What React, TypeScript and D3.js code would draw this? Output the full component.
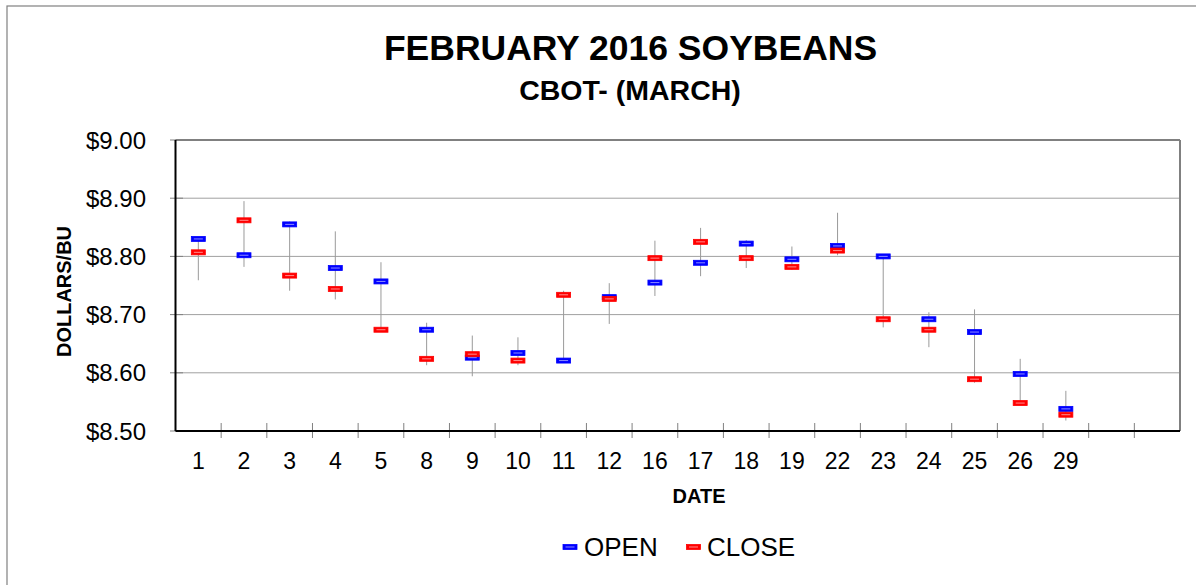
import React from "react";
import * as d3 from "d3";

const categories = ["1","2","3","4","5","8","9","10","11","12","16","17","18","19","22","23","24","25","26","29","",""];
const openValues = [8.830,8.802,8.855,8.780,8.757,8.674,8.626,8.634,8.621,8.730,8.755,8.789,8.822,8.795,8.818,8.800,8.692,8.670,8.598,8.538];
const closeValues = [8.807,8.862,8.767,8.744,8.674,8.624,8.632,8.621,8.734,8.727,8.797,8.825,8.797,8.782,8.810,8.692,8.674,8.589,8.548,8.528];
const highValues = [8.830,8.895,8.860,8.843,8.790,8.686,8.664,8.661,8.741,8.754,8.827,8.849,8.828,8.817,8.875,8.800,8.704,8.709,8.624,8.569];
const lowValues = [8.759,8.782,8.741,8.726,8.674,8.613,8.594,8.613,8.621,8.684,8.732,8.766,8.780,8.777,8.802,8.678,8.644,8.583,8.548,8.518];
const yTicks = [8.5, 8.6, 8.7, 8.8, 8.9, 9.0];

const W = 1196, H = 585;
const L = 175.5, R = 1180, T = 140, B = 431;
const FONT = "Arial, 'Liberation Sans', Helvetica, sans-serif";

export default function App() {
  const x = d3.scaleBand<number>().domain(d3.range(categories.length)).range([L, R]).padding(0);
  const y = d3.scaleLinear().domain([8.5, 9.0]).range([B, T]);
  const cx = (i: number) => (x(i) as number) + x.bandwidth() / 2;
  const fmt = (v: number) => "$" + d3.format(".2f")(v);

  const marker = (px: number, py: number, color: string, key: string) => (
    <g key={key}>
      <rect x={px - 7} y={py - 2.5} width={14} height={5} fill={color} stroke={color} strokeWidth={0.8} />
      <line x1={px - 4.5} x2={px + 4.5} y1={py} y2={py} stroke="#ffffff" strokeOpacity={0.55} strokeWidth={1} />
    </g>
  );

  return (
    <svg width={W} height={H} style={{ position: "absolute", left: 0, top: 0, background: "#fff" }} fontFamily={FONT}>
      <rect x={7} y={6} width={1300} height={700} fill="none" stroke="#808080" strokeWidth={1.2} />
      <text x={630.5} y={60} textAnchor="middle" fontWeight="bold" fontSize={35.5}>FEBRUARY 2016 SOYBEANS</text>
      <text x={630} y={100} textAnchor="middle" fontWeight="bold" fontSize={28.5}>CBOT- (MARCH)</text>

      {yTicks.map((t) => (
        <g key={"g" + t}>
          {t > 8.5 && t < 9.0 && <line x1={L} x2={R} y1={y(t)} y2={y(t)} stroke="#a0a0a0" strokeWidth={1} />}
          <line x1={170} x2={183} y1={y(t)} y2={y(t)} stroke="#808080" strokeWidth={1} />
          <text x={146} y={y(t) + 8.5} textAnchor="end" fontSize={24}>{fmt(t)}</text>
        </g>
      ))}

      {d3.range(1, categories.length).map((i) => (
        <line key={"xt" + i} x1={x(i) as number} x2={x(i) as number} y1={423} y2={438} stroke="#808080" strokeWidth={1} />
      ))}

      <line x1={L} x2={R} y1={T} y2={T} stroke="#808080" strokeWidth={2} />
      <line x1={R} x2={R} y1={T} y2={B} stroke="#808080" strokeWidth={2} />
      <line x1={L} x2={L} y1={T} y2={B} stroke="#000" strokeWidth={2} />
      <line x1={L} x2={R} y1={B} y2={B} stroke="#000" strokeWidth={2} />

      {categories.map((c, i) => (
        <text key={"xl" + i} x={cx(i)} y={469} textAnchor="middle" fontSize={23}>{c}</text>
      ))}

      {openValues.map((_, i) => (
        <line key={"w" + i} x1={cx(i)} x2={cx(i)} y1={y(highValues[i])} y2={y(lowValues[i])} stroke="#9a9a9a" strokeWidth={1} />
      ))}
      {openValues.map((v, i) => marker(cx(i), y(v), "#0000ff", "o" + i))}
      {closeValues.map((v, i) => marker(cx(i), y(v), "#ff0000", "c" + i))}

      <text x={699} y={503} textAnchor="middle" fontWeight="bold" fontSize={20}>DATE</text>
      <text transform={`translate(70.5,291.5) rotate(-90)`} textAnchor="middle" fontWeight="bold" fontSize={20}>DOLLARS/BU</text>

      {marker(570, 547, "#0000ff", "legO")}
      <text x={584} y={556} fontSize={26}>OPEN</text>
      {marker(693.5, 547, "#ff0000", "legC")}
      <text x={707} y={556} fontSize={26}>CLOSE</text>
    </svg>
  );
}
